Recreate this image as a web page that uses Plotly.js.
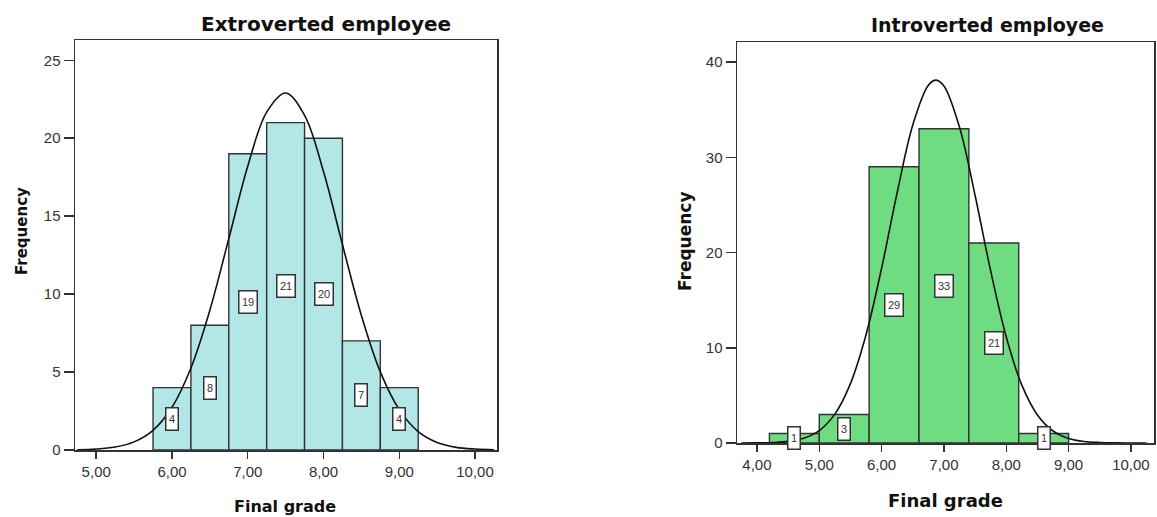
<!DOCTYPE html>
<html>
<head>
<meta charset="utf-8">
<script src="https://cdn.plot.ly/plotly-3.0.1.min.js"></script>
<style>html,body{margin:0;padding:0;background:#fff;}#chart{width:1157px;height:517px;}</style>
</head>
<body>
<div id="chart"></div>
<script>
// Extroverted employee histogram
const extroBinCenters = [6.0, 6.5, 7.0, 7.5, 8.0, 8.5, 9.0];
const extroCounts = [4, 8, 19, 21, 20, 7, 4];
const extroBinWidth = 0.5;
const extroCurveX = [4.75,5.0,5.25,5.5,5.75,6.0,6.25,6.5,6.75,7.0,7.25,7.5,7.75,8.0,8.25,8.5,8.75,9.0,9.25,9.5,9.75,10.0,10.25];
const extroCurveY = [0.02,0.06,0.19,0.52,1.26,2.74,5.26,8.97,13.56,18.2,21.67,22.9,21.47,17.86,13.18,8.63,5.01,2.59,1.18,0.48,0.17,0.06,0.02];
const extroTicks = [5, 6, 7, 8, 9, 10];
const extroTickText = ["5,00","6,00","7,00","8,00","9,00","10,00"];
const extroYTicks = [0, 5, 10, 15, 20, 25];

// Introverted employee histogram
const introBinCenters = [4.6, 5.4, 6.2, 7.0, 7.8, 8.6];
const introCounts = [1, 3, 29, 33, 21, 1];
const introBinWidth = 0.8;
const introCurveX = [3.75,4.0,4.25,4.5,4.75,5.0,5.25,5.5,5.75,6.0,6.25,6.5,6.75,6.875,7.0,7.25,7.5,7.75,8.0,8.25,8.5,8.75,9.0,9.25,9.5,9.75,10.0,10.25];
const introCurveY = [0.003,0.014,0.05,0.17,0.5,1.31,3.03,6.23,11.36,18.36,26.3,33.39,37.57,38.1,37.48,33.15,25.98,18.06,11.13,6.07,2.94,1.26,0.48,0.16,0.05,0.013,0.003,0.001];
const introTicks = [4, 5, 6, 7, 8, 9, 10];
const introTickText = ["4,00","5,00","6,00","7,00","8,00","9,00","10,00"];
const introYTicks = [0, 10, 20, 30, 40];

const FONT = "DejaVu Sans, Verdana, sans-serif";
const TICKFONT = "Liberation Sans, Arial, sans-serif";
const AX = "#333333";

const traces = [
  {type:'bar', x: extroBinCenters, y: extroCounts, width: extroBinWidth, xaxis:'x', yaxis:'y',
   marker:{color:'#b3e6e6', line:{color:'#333333', width:1.4}}, hoverinfo:'x+y'},
  {type:'scatter', mode:'lines', x: extroCurveX, y: extroCurveY, xaxis:'x', yaxis:'y',
   line:{color:'#111111', width:1.6, shape:'spline'}, hoverinfo:'skip'},
  {type:'bar', x: introBinCenters, y: introCounts, width: introBinWidth, xaxis:'x2', yaxis:'y2',
   marker:{color:'#70dc82', line:{color:'#333333', width:1.4}}, hoverinfo:'x+y'},
  {type:'scatter', mode:'lines', x: introCurveX, y: introCurveY, xaxis:'x2', yaxis:'y2',
   line:{color:'#111111', width:1.6, shape:'spline'}, hoverinfo:'skip'}
];

function labelAnns(xs, ys, xref, yref) {
  return xs.map((x, i) => ({
    x: x, y: ys[i] / 2, xref: xref, yref: yref, text: String(ys[i]), showarrow: false,
    font: {family: TICKFONT, size: 11, color: '#333'},
    bgcolor: '#ffffff', bordercolor: '#333333', borderwidth: 1.5, borderpad: 1,
    width: String(ys[i]).length > 1 ? 15 : 9, height: 19
  }));
}

const axisCommon = {
  showline: true, mirror: true, linecolor: AX, linewidth: 1.5,
  ticks: 'outside', tickcolor: AX, tickwidth: 1.5,
  showgrid: false, zeroline: false, fixedrange: true,
  tickfont: {family: TICKFONT, size: 15, color: '#333'}
};

const layout = {
  width: 1157, height: 517,
  margin: {l:0, r:0, t:0, b:0},
  paper_bgcolor: '#ffffff', plot_bgcolor: '#ffffff',
  showlegend: false, bargap: 0,
  xaxis: Object.assign({}, axisCommon, {domain:[75/1157, 497/1157], range:[4.72, 10.29],
    tickvals: extroTicks, ticktext: extroTickText, ticklen: 7, anchor:'y'}),
  yaxis: Object.assign({}, axisCommon, {domain:[1-450/517, 1-40/517], range:[0, 26.3],
    tickvals: extroYTicks, ticklen: 10, anchor:'x'}),
  xaxis2: Object.assign({}, axisCommon, {domain:[737/1157, 1154/1157], range:[3.68, 10.37],
    tickvals: introTicks, ticktext: introTickText, ticklen: 7, anchor:'y2'}),
  yaxis2: Object.assign({}, axisCommon, {domain:[1-443/517, 1-42/517], range:[0, 42.1],
    tickvals: introYTicks, ticklen: 10, anchor:'x2'}),
  annotations: [
    {text:'<b>Extroverted employee</b>', x:326/1157, y:1-24/517, xref:'paper', yref:'paper', showarrow:false,
     font:{family:FONT, size:20, color:'#111'}, xanchor:'center', yanchor:'middle'},
    {text:'<b>Introverted employee</b>', x:987/1157, y:1-25/517, xref:'paper', yref:'paper', showarrow:false,
     font:{family:FONT, size:19, color:'#111'}, xanchor:'center', yanchor:'middle'},
    {text:'<b>Frequency</b>', x:22/1157, y:1-231/517, xref:'paper', yref:'paper', showarrow:false, textangle:-90,
     font:{family:FONT, size:15, color:'#111'}, xanchor:'center', yanchor:'middle'},
    {text:'<b>Frequency</b>', x:685/1157, y:1-241/517, xref:'paper', yref:'paper', showarrow:false, textangle:-90,
     font:{family:FONT, size:17, color:'#111'}, xanchor:'center', yanchor:'middle'},
    {text:'<b>Final grade</b>', x:285/1157, y:1-506/517, xref:'paper', yref:'paper', showarrow:false,
     font:{family:FONT, size:16, color:'#111'}, xanchor:'center', yanchor:'middle'},
    {text:'<b>Final grade</b>', x:945/1157, y:1-500/517, xref:'paper', yref:'paper', showarrow:false,
     font:{family:FONT, size:18, color:'#111'}, xanchor:'center', yanchor:'middle'}
  ].concat(labelAnns(extroBinCenters, extroCounts, 'x', 'y'))
   .concat(labelAnns(introBinCenters, introCounts, 'x2', 'y2'))
};

Plotly.newPlot('chart', traces, layout, {displayModeBar: false, staticPlot: true});
</script>
</body>
</html>
